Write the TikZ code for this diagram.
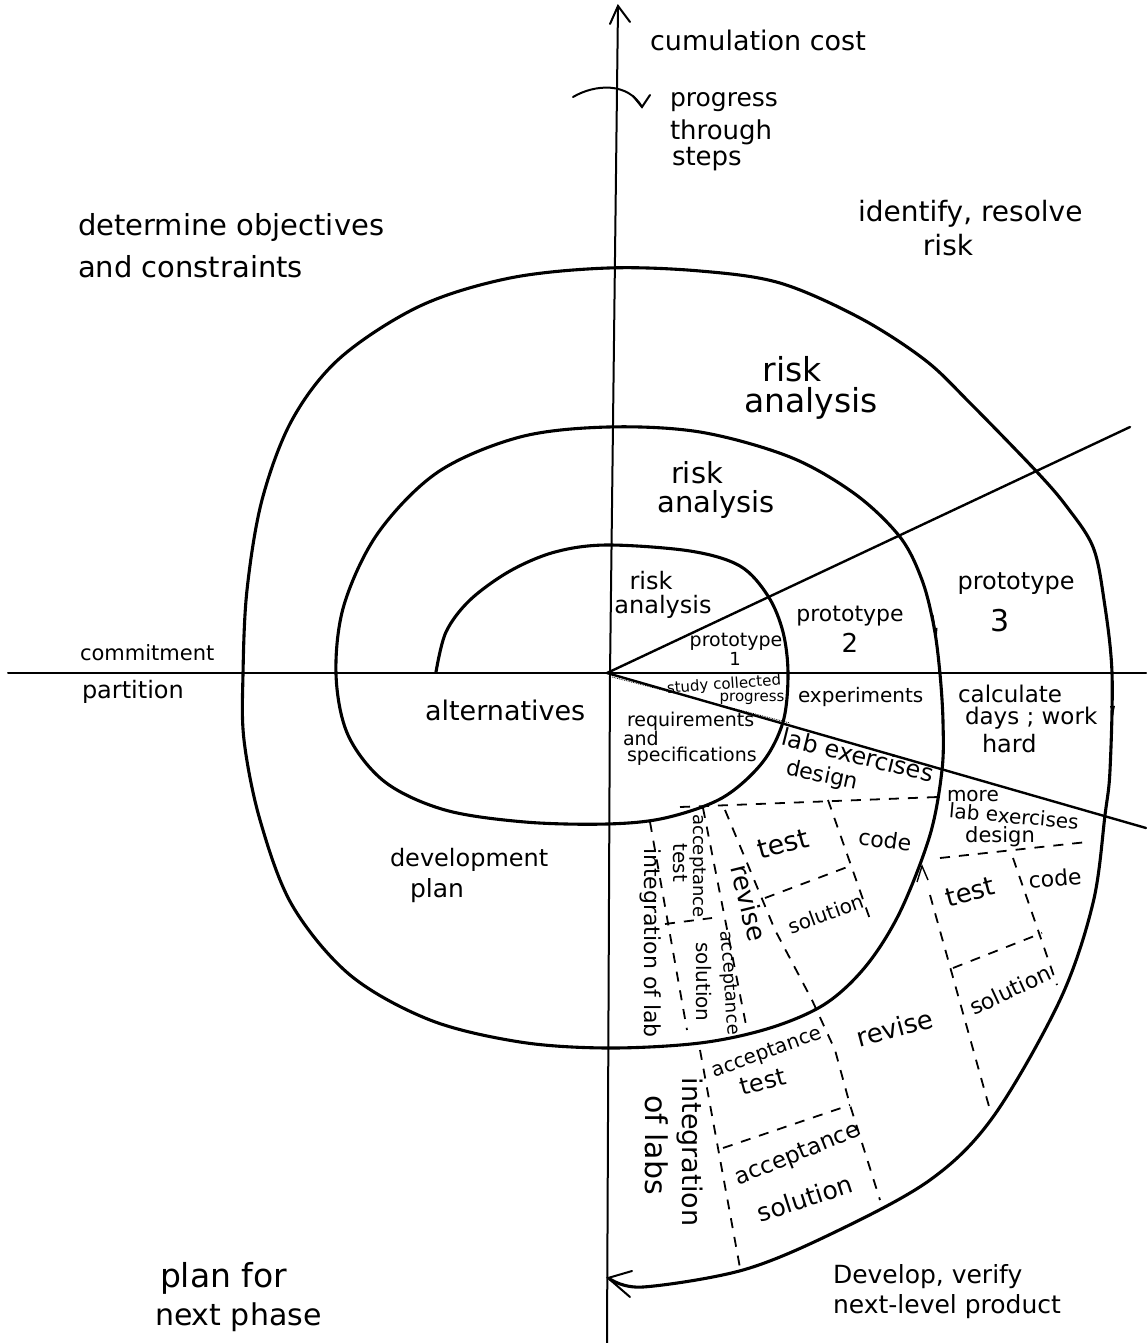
\documentclass[tikz,border=0pt]{standalone}
\usepackage{fontspec}
\setmainfont{DejaVu Sans}
\usetikzlibrary{arrows.meta}
\newcommand\fsz[1]{\fontsize{#1}{#1}\selectfont}
\tikzset{
  t/.style={inner sep=0pt, outer sep=0pt},
  spiralline/.style={line width=3.1pt, line join=round, line cap=round},
  axisline/.style={line width=2pt, line cap=round},
  rayline/.style={line width=2.4pt, line cap=round},
  dsh/.style={line width=1.8pt, dash pattern=on 10pt off 9pt},
}
\begin{document}
\begin{tikzpicture}[x=1pt,y=-1pt]
\useasboundingbox (0,0) rectangle (1146,1343);
% axes
\coordinate (vtop) at (618,6);
\coordinate (vbot) at (607,1343);
\coordinate (hl) at (8,673);
\coordinate (hr) at (1146,673);
\coordinate (c) at (607,673);
\draw[axisline] (vbot) -- (610,674) -- (vtop);
\draw[axisline] (610,24) -- (vtop) -- (630,22);
\draw[axisline] (hl) -- (hr);
% rays
\coordinate (r1) at (1130,427);
\coordinate (r2) at (1146,828);
\draw[rayline] (c) -- (r1);
\draw[rayline] (c) -- (r2);
\draw[line width=0.8pt, densely dotted] (612,677) -- (790,723);
% progress arrow
\coordinate (pa1) at (573,97);
\coordinate (pa2) at (642,107);
\draw[axisline] (pa1) .. controls (595,84) and (628,82) .. (pa2);
\draw[axisline] (633,96) -- (pa2) -- (650,95);
% spiral
\draw[spiralline] plot[smooth, tension=0.55] coordinates {
(436,672) (446,632) (470,600) (510,571) (555,552) (607,545) (690,551) (740,566)
(768,596) (783,632) (788,674) (783,722) (762,763) (722,798) (665,818) (607,824)
(525,822) (445,810) (385,782) (348,735) (336,674) (344,605) (378,533) (438,472)
(520,437) (608,427) (700,432) (790,457) (855,494) (900,537) (922,580) (934,627)
(940,674) (943,722) (942,770) (930,835) (900,912) (866,966) (825,1004) (770,1028)
(700,1043) (608,1048) (520,1042) (430,1020) (350,975) (292,905) (260,820)
(244,740) (243,674) (247,590) (262,500) (292,420) (340,358) (420,306) (510,278)
(608,268) (700,271) (780,283) (860,318) (925,360) (970,403) (1037,472) (1067,507)
(1093,547) (1104,600) (1112,673) (1110,770) (1105,815) (1093,903) (1060,1000)
(993,1117) (930,1180) (833,1233) (743,1270) (643,1287) (610,1279)};
\coordinate (endtip) at (608,1278);
\draw[axisline] (632,1271) -- (endtip) -- (630,1297);
% small arrow marks on spiral
\draw[line width=1pt, -{Latex[length=12pt,width=5pt]}] (933,615) -- (937,640);
\draw[line width=1pt, -{Latex[length=12pt,width=5pt]}] (1112,695) -- (1113,718);
\draw[line width=1.4pt] (917,882) -- (922,866) -- (928,880);
% dashed grid, second ring
\draw[dsh] (680,807) -- (938,797);
\draw[dsh] (650,822) -- (687,1030);
\draw[dsh] (703,808) -- (747,1030);
\draw[dsh] (665,924) -- (712,918);
\draw[dsh] (725,810) -- (775,930) -- (812,1000) -- (835,1050) -- (850,1105) -- (880,1200);
\draw[dsh] (828,800) -- (872,925);
\draw[dsh] (765,898) -- (850,866);
% dashed grid, third ring
\draw[dsh] (940,858) -- (1087,842);
\draw[dsh] (930,895) -- (990,1110);
\draw[dsh] (1013,858) -- (1057,985);
\draw[dsh] (953,968) -- (1042,933);
% dashed grid, outer ring
\draw[dsh] (700,1050) -- (740,1268);
\draw[dsh] (723,1148) -- (850,1105);
% texts
\node[t, font=\fsz{27}] (cc) at (758,40) {cumulation cost};
\node[t, anchor=base west, font=\fsz{25}] (pg1) at (670,107) {progress};
\node[t, anchor=base west, font=\fsz{26}] (pg2) at (670,140) {through};
\node[t, anchor=base west, font=\fsz{26}] (pg3) at (672,166) {steps};
\node[t, anchor=base west, font=\fsz{29}] (det1) at (78,235) {determine objectives};
\node[t, anchor=base west, font=\fsz{29}] (det2) at (78,277) {and constraints};
\node[t, anchor=base west, font=\fsz{28}] (id1) at (858,222) {identify, resolve};
\node[t, anchor=base, font=\fsz{28}] (id2) at (948,255) {risk};
\node[t, anchor=base, font=\fsz{33}] (ra3a) at (792,381) {risk};
\node[t, anchor=base, font=\fsz{33}] (ra3b) at (811,412) {analysis};
\node[t, anchor=base, font=\fsz{29}] (ra2a) at (697,483) {risk};
\node[t, anchor=base, font=\fsz{29}] (ra2b) at (716,512) {analysis};
\node[t, anchor=base, font=\fsz{24}] (ra1a) at (651,589) {risk};
\node[t, anchor=base, font=\fsz{24}] (ra1b) at (663,613) {analysis};
\node[t, anchor=base, font=\fsz{19}] (p1a) at (736,646) {prototype};
\node[t, anchor=base, font=\fsz{18}] (p1b) at (735,665) {1};
\node[t, anchor=base, font=\fsz{22}] (p2a) at (850,621) {prototype};
\node[t, anchor=base, font=\fsz{26}] (p2b) at (850,652) {2};
\node[t, anchor=base, font=\fsz{24}] (p3a) at (1016,589) {prototype};
\node[t, anchor=base, font=\fsz{30}] (p3b) at (1000,631) {3};
\node[t, anchor=base west, font=\fsz{21}] (cm1) at (80,660) {commitment};
\node[t, anchor=base west, font=\fsz{24}] (cm2) at (82,698) {partition};
\node[t, font=\fsz{15}, rotate=4] (sc1) at (724,685) {study collected};
\node[t, font=\fsz{15}] (sc2) at (752,699) {progress};
\node[t, anchor=base west, font=\fsz{20}] (exp) at (798,702) {experiments};
\node[t, anchor=base west, font=\fsz{23}] (cal1) at (958,702) {calculate};
\node[t, anchor=base west, font=\fsz{23}] (cal2) at (965,724) {days ; work};
\node[t, anchor=base west, font=\fsz{24}] (cal3) at (982,752) {hard};
\node[t, anchor=base west, font=\fsz{27}] (alt) at (425,720) {alternatives};
\node[t, anchor=base west, font=\fsz{19}] (rq1) at (627,726) {requirements};
\node[t, anchor=base west, font=\fsz{19}] (rq2) at (623,745) {and};
\node[t, anchor=base west, font=\fsz{19}] (rq3) at (627,761) {specifications};
\node[t, font=\fsz{24}, rotate=-14] (lab1) at (858,755) {lab exercises};
\node[t, font=\fsz{22}, rotate=-12] (lab2) at (822,776) {design};
\node[t, anchor=base west, font=\fsz{20}] (mo1) at (947,801) {more};
\node[t, font=\fsz{20}, rotate=-5] (mo2) at (1014,816) {lab exercises};
\node[t, font=\fsz{21}] (mo3) at (1000,837) {design};
\node[t, anchor=base west, font=\fsz{24}] (dev1) at (390,866) {development};
\node[t, anchor=base west, font=\fsz{25}] (dev2) at (410,897) {plan};
\node[t, font=\fsz{27}, rotate=15] (te2) at (783,844) {test};
\node[t, font=\fsz{22}, rotate=-8] (co2) at (885,840) {code};
\node[t, font=\fsz{20}, rotate=20] (so2) at (826,914) {solution};
\node[t, font=\fsz{26}, rotate=-76] (rv2) at (749,903) {revise};
\node[t, font=\fsz{18}, rotate=-90] (at2a) at (698,866) {acceptance};
\node[t, font=\fsz{20}, rotate=-90] (at2b) at (680,863) {test};
\node[t, font=\fsz{18}, rotate=-86] (as2a) at (729,983) {acceptance};
\node[t, font=\fsz{20}, rotate=-90] (as2b) at (704,982) {solution};
\node[t, font=\fsz{22}, rotate=-90] (ig2) at (651,943) {integration of lab};
\node[t, font=\fsz{26}, rotate=15] (te3) at (970,892) {test};
\node[t, font=\fsz{22}, rotate=5] (co3) at (1055,878) {code};
\node[t, font=\fsz{22}, rotate=25] (so3) at (1010,990) {solution};
\node[t, font=\fsz{26}, rotate=15] (rv4) at (895,1028) {revise};
\node[t, font=\fsz{20}, rotate=20] (at4a) at (767,1053) {acceptance};
\node[t, font=\fsz{24}, rotate=15] (at4b) at (763,1082) {test};
\node[t, font=\fsz{23}, rotate=22] (as4a) at (798,1155) {acceptance};
\node[t, font=\fsz{25}, rotate=18] (as4b) at (805,1198) {solution};
\node[t, font=\fsz{27}, rotate=-90] (ig4a) at (690,1152) {integration};
\node[t, font=\fsz{30}, rotate=-90] (ig4b) at (657,1145) {of labs};
\node[t, anchor=base west, font=\fsz{33}] (pl1) at (160,1287) {plan for};
\node[t, anchor=base west, font=\fsz{30}] (pl2) at (155,1325) {next phase};
\node[t, anchor=base west, font=\fsz{25}] (dv1) at (833,1283) {Develop, verify};
\node[t, anchor=base west, font=\fsz{25}] (dv2) at (833,1313) {next-level product};
\end{tikzpicture}
\end{document}
